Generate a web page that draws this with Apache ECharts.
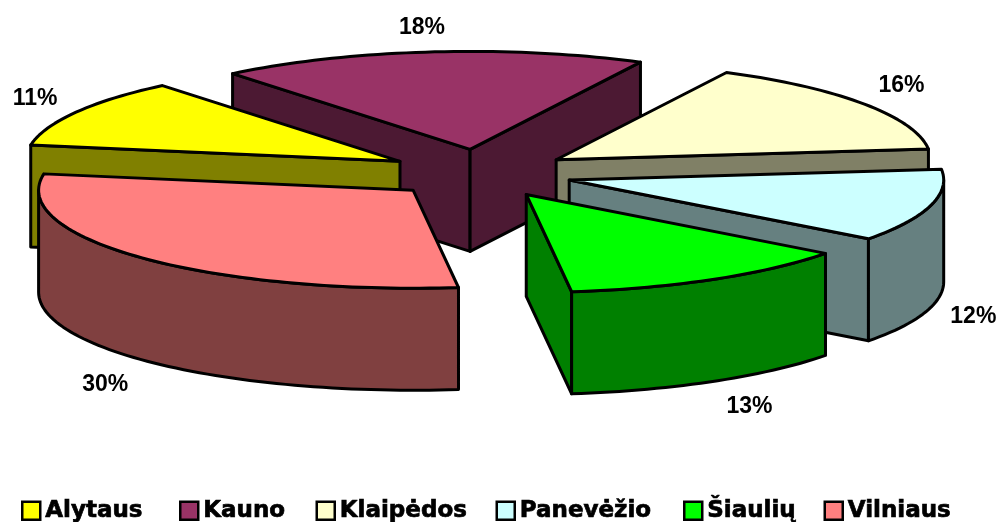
<!DOCTYPE html>
<html><head><meta charset="utf-8">
<style>html,body{margin:0;padding:0;background:#fff}#c{width:1006px;height:522px}</style>
<script src="https://cdn.jsdelivr.net/npm/echarts@6/dist/echarts.min.js"></script>
</head><body><div id="c"></div>
<script>
// Data, clockwise from the first slice
const categories = ['Alytaus','Kauno','Klaipėdos','Panevėžio','Šiaulių','Vilniaus'];
const shares = [11.4,18.45,15.75,12.0,12.8,29.6];
const topColors = ['#FFFF00','#993366','#FFFFCC','#CCFFFF','#00FF00','#FF8080'];
const sideColors = ['#808000','#4C1933','#808066','#668080','#008000','#804040'];

// Layout of the projected pie
const cx=480, cy=173.5, rx=374.5, ry=98, depth=102, explode=0.247, startDeg=-80.4;
const drawOrder=[1,0,2,3,4,5];
const labelOffsets=[[-41,-14],[-8,-24],[37,-18],[43,9],[36,25],[-37,25]];
const legendLefts=[21,179,315.5,495.5,683,823.5];

const total=shares.reduce((a,b)=>a+b,0);
const rad=d=>d*Math.PI/180;
let acc=startDeg;
const spans=shares.map(v=>{const s=acc;acc+=v/total*360;return [s,acc];});
const ell=(ax,ay,t)=>[ax+rx*Math.sin(rad(t)),ay-ry*Math.cos(rad(t))];
function arc(ax,ay,a,b,dy){const n=Math.max(2,Math.ceil(Math.abs(b-a)/1.5));const p=[];
  for(let i=0;i<=n;i++){const q=ell(ax,ay,a+(b-a)*i/n);p.push([q[0],q[1]+dy]);}return p;}

function renderSlice(i){return function(params,api){
  const [a,b]=spans[i], m=(a+b)/2, v=api.value(0);
  const ax=cx+explode*rx*Math.sin(rad(m)), ay=cy-explode*ry*Math.cos(rad(m));
  const side={fill:sideColors[i],stroke:'#000',lineWidth:3,lineJoin:'round'};
  const top={fill:topColors[i],stroke:'#000',lineWidth:3,lineJoin:'round'};
  const kids=[];
  const cut=t=>{const q=ell(ax,ay,t);kids.push({type:'polygon',shape:{points:[[ax,ay],q,[q[0],q[1]+depth],[ax,ay+depth]]},style:side});};
  if(Math.sin(rad(a))<0)cut(a);
  if(Math.sin(rad(b))>0)cut(b);
  // outer wall: only the part of the rim that faces the viewer
  const w0=Math.max(a,90), w1=Math.min(b,270);
  if(w1>w0){kids.push({type:'polygon',shape:{points:arc(ax,ay,w0,w1,0).concat(arc(ax,ay,w1,w0,depth))},style:side});}
  kids.push({type:'polygon',shape:{points:[[ax,ay]].concat(arc(ax,ay,a,b,0))},style:top});
  const mid=ell(ax,ay,m), front=Math.cos(rad(m))<0?depth:0, o=labelOffsets[i];
  kids.push({type:'text',x:mid[0]+o[0],y:mid[1]+front+o[1],style:{text:Math.round(v/total*100)+'%',
    font:'bold 23px "Liberation Sans"',fill:'#000',align:'center',verticalAlign:'middle'}});
  return {type:'group',children:kids};
};}

const chart=echarts.init(document.getElementById('c'),null,{renderer:'canvas'});
chart.setOption({
  animation:false,
  backgroundColor:'#fff',
  legend:categories.map((name,i)=>({left:legendLefts[i],top:499,padding:0,itemWidth:18,itemHeight:18,icon:'rect',
    data:[name],selectedMode:false,
    textStyle:{fontFamily:'DejaVu Sans',fontWeight:'bold',fontSize:23,color:'#000',textBorderColor:'#000',textBorderWidth:0.7},
    itemStyle:{borderColor:'#000',borderWidth:2.5}})),
  series:drawOrder.map(i=>({type:'custom',name:categories[i],coordinateSystem:'none',silent:true,
    itemStyle:{color:topColors[i]},renderItem:renderSlice(i),data:[[shares[i]]]}))
});
</script></body></html>
